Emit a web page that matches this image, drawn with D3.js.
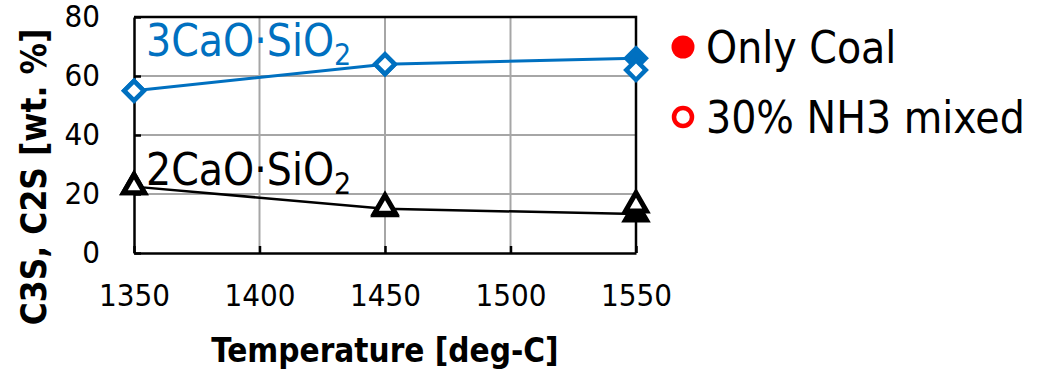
<!DOCTYPE html>
<html>
<head>
<meta charset="utf-8">
<script src="https://cdn.jsdelivr.net/npm/d3@7"></script>
<style>
  body { margin: 0; background: #fff; }
  svg text { font-family: "DejaVu Sans Condensed", "DejaVu Sans", sans-serif; font-stretch: condensed; }
</style>
</head>
<body>
<svg id="chart" width="1052" height="374"></svg>
<script>
// data
const temps = [1350, 1450, 1550]
const c3s_coal = [55, 64, 66]
const c3s_nh3 = [55, 64, 62]
const c2s_coal = [22.5, 15, 13.2]
const c2s_nh3 = [22.5, 15.5, 16.3]

const x_ticks = [1350, 1400, 1450, 1500, 1550]
const y_ticks = [0, 20, 40, 60, 80]
const legend_labels = ["Only Coal", "30% NH3 mixed"]

const blue = "#0070C0"
const red = "#FF0000"

const marginLeft = 134
const marginRight = 1052 - 636
const marginTop = 17
const marginBottom = 374 - 253

const svg = d3.select("#chart")
const width = 1052, height = 374

const x = d3.scaleLinear().domain([1350, 1550]).range([marginLeft, width - marginRight])
const y = d3.scaleLinear().domain([0, 80]).range([height - marginBottom, marginTop])

// gridlines
svg.append("g")
  .selectAll("line.hgrid")
  .data(y_ticks.filter(d => d > 0 && d < 80))
  .enter().append("line")
  .attr("x1", x(1350)).attr("x2", x(1550))
  .attr("y1", d => y(d)).attr("y2", d => y(d))
  .attr("stroke", "#a6a6a6").attr("stroke-width", 2)

svg.append("g")
  .selectAll("line.vgrid")
  .data(x_ticks.filter(d => d > 1350 && d < 1550))
  .enter().append("line")
  .attr("x1", d => x(d)).attr("x2", d => x(d))
  .attr("y1", y(0)).attr("y2", y(80))
  .attr("stroke", "#a6a6a6").attr("stroke-width", 2)

// axes with inward ticks
const xAxis = svg.append("g")
  .attr("transform", `translate(0,${y(0)})`)
  .call(d3.axisBottom(x).tickValues(x_ticks).tickSizeInner(-7).tickSizeOuter(0).tickPadding(31).tickFormat(d3.format("d")))
const yAxis = svg.append("g")
  .attr("transform", `translate(${x(1350)},0)`)
  .call(d3.axisLeft(y).tickValues(y_ticks).tickSizeInner(-7).tickSizeOuter(0).tickPadding(34))

;[xAxis, yAxis].forEach(ax => {
  ax.select(".domain").attr("stroke", "#000").attr("stroke-width", 2.5)
  ax.selectAll(".tick line").attr("stroke", "#000").attr("stroke-width", 2.5)
  ax.selectAll(".tick text").attr("fill", "#000").style("font-size", "31px")
})

// top and right frame
svg.append("path")
  .attr("d", `M${x(1350)},${y(80)}H${x(1550)}V${y(0)}`)
  .attr("fill", "none").attr("stroke", "#000").attr("stroke-width", 2.5)

// axis titles
svg.append("text")
  .attr("x", (x(1350) + x(1550)) / 2)
  .attr("y", 362)
  .attr("text-anchor", "middle")
  .style("font-size", "33px").style("font-weight", "bold")
  .text("Temperature [deg-C]")

svg.append("text")
  .attr("transform", "translate(46,177) rotate(-90)")
  .attr("text-anchor", "middle")
  .style("font-size", "35px").style("font-weight", "bold")
  .text("C3S, C2S [wt. %]")

// series
const line = d3.line().x((d, i) => x(temps[i])).y(d => y(d))

const diamond = d3.symbol().type(d3.symbolSquare).size(190)
const triangle = d3.symbol().type(d3.symbolTriangle).size(190)

function draw_markers(values, sym, color, filled, rotate, sw){
  svg.append("g").selectAll("path")
    .data(values)
    .enter().append("path")
    .attr("d", sym)
    .attr("transform", (d, i) => `translate(${x(temps[i])},${y(d)}) rotate(${rotate})`)
    .attr("fill", filled ? color : "#fff")
    .attr("stroke", color)
    .attr("stroke-width", sw)
    .attr("stroke-linejoin", "miter")
}

svg.append("path").datum(c3s_coal)
  .attr("d", line).attr("fill", "none").attr("stroke", blue).attr("stroke-width", 3)
svg.append("path").datum(c2s_coal)
  .attr("d", line).attr("fill", "none").attr("stroke", "#000").attr("stroke-width", 2.5)

draw_markers(c3s_coal, diamond, blue, true, 45, 4.5)
draw_markers(c2s_coal, triangle, "#000", true, 0, 5)
draw_markers(c3s_nh3, diamond, blue, false, 45, 4.5)
draw_markers(c2s_nh3, triangle, "#000", false, 0, 5)

// series labels
function formula(text_x, text_y, prefix, color){
  const t = svg.append("text")
    .attr("x", text_x).attr("y", text_y)
    .attr("fill", color)
    .style("font-size", "44px")
  t.append("tspan").text(prefix + "CaO·SiO")
  t.append("tspan").attr("dy", 9).style("font-size", "30px").text("2")
}
formula(146, 56, "3", blue)
formula(146, 185, "2", "#000")

// legend
const legend = svg.append("g")
legend_labels.forEach((label, i) => {
  const ly = 47 + i * 70
  legend.append("circle")
    .attr("cx", 683).attr("cy", ly)
    .attr("r", i == 0 ? 11.5 : 9)
    .attr("fill", i == 0 ? red : "#fff")
    .attr("stroke", red)
    .attr("stroke-width", i == 0 ? 0 : 4.5)
  legend.append("text")
    .attr("x", 706).attr("y", ly + 16)
    .attr("fill", "#000")
    .style("font-size", "44px")
    .text(label)
})
</script>
</body>
</html>
